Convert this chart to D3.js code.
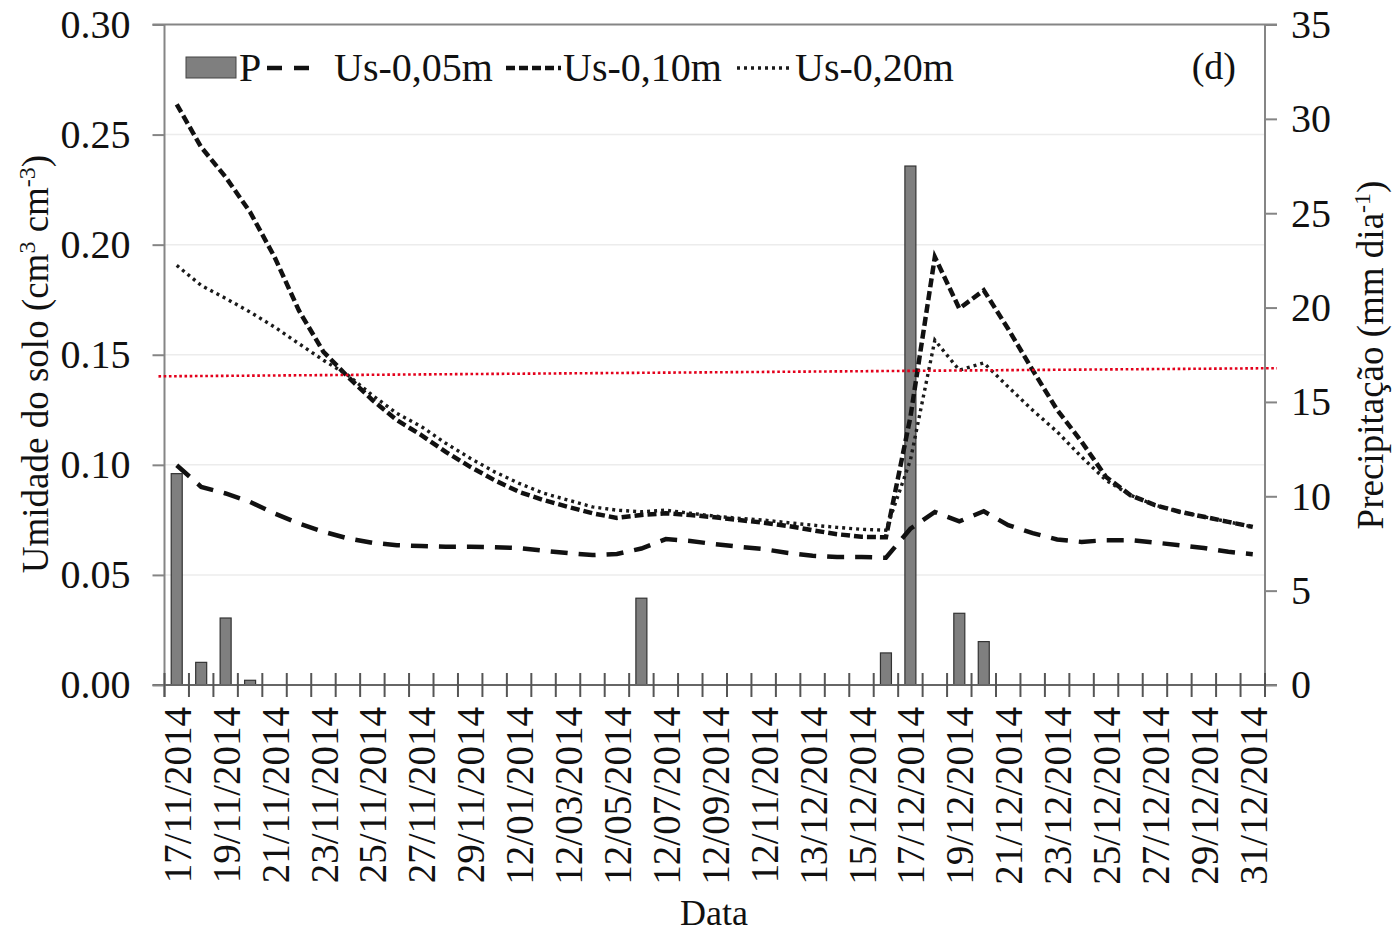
<!DOCTYPE html>
<html>
<head>
<meta charset="utf-8">
<script src="https://cdn.jsdelivr.net/npm/d3@7"></script>
<style>
  body { margin: 0; background: #fff; }
  svg { font-family: "Liberation Serif", "Times New Roman", serif; }
</style>
</head>
<body>
<div id="chart"></div>
<script>
// Dates as Excel printed them (1-12 Dec came out as mm/dd)
var dates = [
  "17/11/2014","18/11/2014","19/11/2014","20/11/2014","21/11/2014","22/11/2014","23/11/2014",
  "24/11/2014","25/11/2014","26/11/2014","27/11/2014","28/11/2014","29/11/2014","30/11/2014",
  "12/01/2014","12/02/2014","12/03/2014","12/04/2014","12/05/2014","12/06/2014","12/07/2014",
  "12/08/2014","12/09/2014","12/10/2014","12/11/2014","12/12/2014","13/12/2014","14/12/2014",
  "15/12/2014","16/12/2014","17/12/2014","18/12/2014","19/12/2014","20/12/2014","21/12/2014",
  "22/12/2014","23/12/2014","24/12/2014","25/12/2014","26/12/2014","27/12/2014","28/12/2014",
  "29/12/2014","30/12/2014","31/12/2014"
];

// Precipitation, mm/day (right axis)
var precip = [
  11.2, 1.2, 3.55, 0.25, 0, 0, 0, 0, 0, 0, 0, 0, 0, 0, 0,
  0, 0, 0, 0, 4.6, 0, 0, 0, 0, 0, 0, 0, 0, 0, 1.7,
  27.5, 0, 3.8, 2.3, 0, 0, 0, 0, 0, 0, 0, 0, 0, 0, 0
];

// Soil moisture, cm3/cm3 (left axis)
var us005 = [
  0.0998, 0.0900, 0.0870, 0.0832, 0.0779, 0.0734, 0.0696, 0.0666, 0.0646, 0.0635,
  0.0631, 0.0628, 0.0628, 0.0626, 0.0622, 0.0610, 0.0599, 0.0590, 0.0595, 0.0620,
  0.0663, 0.0654, 0.0640, 0.0628, 0.0617, 0.0600, 0.0587, 0.0581, 0.0581, 0.0578,
  0.0710, 0.0786, 0.0743, 0.0789, 0.0726, 0.0690, 0.0661, 0.0650, 0.0658, 0.0658,
  0.0647, 0.0635, 0.0622, 0.0605, 0.0594
];
var us010 = [
  0.2637, 0.2443, 0.2307, 0.2148, 0.1944, 0.1700, 0.1513, 0.1400, 0.1294, 0.1203,
  0.1135, 0.1059, 0.0991, 0.0930, 0.0877, 0.0840, 0.0809, 0.0780, 0.0759, 0.0772,
  0.0780, 0.0772, 0.0762, 0.0749, 0.0737, 0.0722, 0.0703, 0.0685, 0.0673, 0.0671,
  0.1217, 0.1944, 0.1710, 0.1793, 0.1617, 0.1430, 0.1250, 0.1105, 0.0945, 0.0862,
  0.0817, 0.0787, 0.0764, 0.0741, 0.0718
];
var us020 = [
  0.1906, 0.1815, 0.1756, 0.1694, 0.1626, 0.1550, 0.1475, 0.1407, 0.1316, 0.1234,
  0.1174, 0.1098, 0.1030, 0.0968, 0.0916, 0.0871, 0.0840, 0.0809, 0.0794, 0.0787,
  0.0794, 0.0780, 0.0767, 0.0757, 0.0749, 0.0737, 0.0726, 0.0716, 0.0707, 0.0703,
  0.1021, 0.1566, 0.1430, 0.1463, 0.1354, 0.1248, 0.1150, 0.1036, 0.0930, 0.0862,
  0.0817, 0.0787, 0.0764, 0.0741, 0.0718
];

// red reference line (start, end)
var refLine = [0.1402, 0.1439];

var leftTicks = [0, 0.05, 0.10, 0.15, 0.20, 0.25, 0.30];
var rightTicks = [0, 5, 10, 15, 20, 25, 30, 35];

var width = 1395, height = 935;
var plotL = 164.5, plotR = 1265, plotT = 24.5, plotB = 685;

var svg = d3.select("#chart").append("svg")
  .attr("width", width)
  .attr("height", height);

var x = d3.scaleBand().domain(dates).range([plotL, plotR]).padding(0);
var yL = d3.scaleLinear().domain([0, 0.30]).range([plotB, plotT]);
var yR = d3.scaleLinear().domain([0, 35]).range([plotB, plotT]);

var axisColor = "#858585";
var dash05 = "17,11", dash10 = "9,4", dot20 = "3,4";

// gridlines
svg.append("g").selectAll("line")
  .data(leftTicks.filter(function(d) { return d > 0 && d < 0.30; }))
  .enter().append("line")
  .attr("x1", plotL).attr("x2", plotR)
  .attr("y1", function(d) { return yL(d); })
  .attr("y2", function(d) { return yL(d); })
  .attr("stroke", "#ececec")
  .attr("stroke-width", 1.5);

// bars
svg.append("g").selectAll("rect")
  .data(precip.map(function(v, i) { return {d: dates[i], v: v}; }).filter(function(p) { return p.v > 0; }))
  .enter().append("rect")
  .attr("x", function(p) { return x(p.d) + x.bandwidth() * 0.5 - 5.5; })
  .attr("width", 11)
  .attr("y", function(p) { return yR(p.v); })
  .attr("height", function(p) { return plotB - yR(p.v); })
  .attr("fill", "#7f7f7f")
  .attr("stroke", "#333")
  .attr("stroke-width", 1.2);

// axes frame
svg.append("line").attr("x1", plotL - 12).attr("x2", plotR + 12).attr("y1", plotT).attr("y2", plotT)
  .attr("stroke", axisColor).attr("stroke-width", 2);
svg.append("line").attr("x1", plotL - 12).attr("x2", plotR + 12).attr("y1", plotB).attr("y2", plotB)
  .attr("stroke", "#666").attr("stroke-width", 2);
svg.append("line").attr("x1", plotL).attr("x2", plotL).attr("y1", plotT).attr("y2", plotB + 12)
  .attr("stroke", axisColor).attr("stroke-width", 2);
svg.append("line").attr("x1", plotR).attr("x2", plotR).attr("y1", plotT).attr("y2", plotB)
  .attr("stroke", axisColor).attr("stroke-width", 2);

// left axis
var gl = svg.append("g")
  .attr("transform", "translate(" + plotL + ",0)")
  .call(d3.axisLeft(yL).tickValues(leftTicks).tickSize(12).tickPadding(22)
    .tickFormat(d3.format(".2f")));
gl.select(".domain").remove();
gl.selectAll(".tick line").attr("stroke", axisColor).attr("stroke-width", 2);
gl.selectAll(".tick text").attr("font-size", 40).attr("font-family", "Liberation Serif").attr("fill", "#111");

// right axis
var gr = svg.append("g")
  .attr("transform", "translate(" + plotR + ",0)")
  .call(d3.axisRight(yR).tickValues(rightTicks).tickSize(12).tickPadding(14));
gr.select(".domain").remove();
gr.selectAll(".tick line").attr("stroke", axisColor).attr("stroke-width", 2);
gr.selectAll(".tick text").attr("font-size", 40).attr("font-family", "Liberation Serif").attr("fill", "#111");

// bottom ticks at band boundaries, crossing the axis
var bounds = dates.map(function(d) { return x(d); }).concat([plotR]);
svg.append("g").selectAll("line")
  .data(bounds)
  .enter().append("line")
  .attr("x1", function(d) { return d; }).attr("x2", function(d) { return d; })
  .attr("y1", plotB - 12).attr("y2", plotB + 12)
  .attr("stroke", "#555").attr("stroke-width", 2);

// x labels, every other day
svg.append("g").selectAll("text")
  .data(dates.filter(function(d, i) { return i % 2 === 0; }))
  .enter().append("text")
  .attr("transform", function(d) {
    return "translate(" + (x(d) + x.bandwidth() / 2) + "," + (plotB + 22) + ") rotate(-90)";
  })
  .attr("text-anchor", "end")
  .attr("dy", "0.36em")
  .attr("font-size", 39)
  .attr("fill", "#111")
  .text(function(d) { return d; });

// lines
function lineFor(vals) {
  return d3.line()
    .x(function(v, i) { return x(dates[i]) + x.bandwidth() / 2; })
    .y(function(v) { return yL(v); })(vals);
}

svg.append("path").attr("d", lineFor(us005))
  .attr("fill", "none").attr("stroke", "#111").attr("stroke-width", 4.5)
  .attr("stroke-dasharray", dash05);
svg.append("path").attr("d", lineFor(us010))
  .attr("fill", "none").attr("stroke", "#111").attr("stroke-width", 4.5)
  .attr("stroke-dasharray", dash10);
svg.append("path").attr("d", lineFor(us020))
  .attr("fill", "none").attr("stroke", "#1a1a1a").attr("stroke-width", 3.4)
  .attr("stroke-dasharray", dot20);

// red reference line
svg.append("line")
  .attr("x1", plotL - 6).attr("x2", plotR + 12)
  .attr("y1", yL(refLine[0])).attr("y2", yL(refLine[1]))
  .attr("stroke", "#e3001b").attr("stroke-width", 2.6)
  .attr("stroke-dasharray", "2.6,2.6");

// legend
var lg = svg.append("g").attr("font-size", 40).attr("fill", "#111");
lg.append("rect").attr("x", 186).attr("y", 57).attr("width", 50).attr("height", 21)
  .attr("fill", "#7f7f7f").attr("stroke", "#444").attr("stroke-width", 1);
lg.append("text").attr("x", 239).attr("y", 81).text("P");
lg.append("line").attr("x1", 267).attr("x2", 318).attr("y1", 68).attr("y2", 68)
  .attr("stroke", "#111").attr("stroke-width", 4.5).attr("stroke-dasharray", "15,12");
lg.append("text").attr("x", 334).attr("y", 81).text("Us-0,05m");
lg.append("line").attr("x1", 506).attr("x2", 561).attr("y1", 68).attr("y2", 68)
  .attr("stroke", "#111").attr("stroke-width", 4.5).attr("stroke-dasharray", dash10);
lg.append("text").attr("x", 563).attr("y", 81).text("Us-0,10m");
lg.append("line").attr("x1", 737).attr("x2", 790).attr("y1", 68).attr("y2", 68)
  .attr("stroke", "#1a1a1a").attr("stroke-width", 3.4).attr("stroke-dasharray", dot20);
lg.append("text").attr("x", 795).attr("y", 81).text("Us-0,20m");

svg.append("text").attr("x", 1236).attr("y", 79).attr("text-anchor", "end")
  .attr("font-size", 38).attr("fill", "#111").text("(d)");

// axis titles
var tl = svg.append("text")
  .attr("transform", "translate(48,364) rotate(-90)")
  .attr("text-anchor", "middle").attr("font-size", 37).attr("fill", "#111");
tl.append("tspan").text("Umidade  do solo (cm");
tl.append("tspan").attr("baseline-shift", "super").attr("font-size", 24).text("3");
tl.append("tspan").text(" cm");
tl.append("tspan").attr("baseline-shift", "super").attr("font-size", 24).text("-3");
tl.append("tspan").text(")");

var tr = svg.append("text")
  .attr("transform", "translate(1383,355) rotate(-90)")
  .attr("text-anchor", "middle").attr("font-size", 37).attr("fill", "#111");
tr.append("tspan").text("Precipitação  (mm dia");
tr.append("tspan").attr("baseline-shift", "super").attr("font-size", 24).text("-1");
tr.append("tspan").text(")");

svg.append("text").attr("x", 714).attr("y", 925).attr("text-anchor", "middle")
  .attr("font-size", 36).attr("fill", "#111").text("Data");
</script>
</body>
</html>
